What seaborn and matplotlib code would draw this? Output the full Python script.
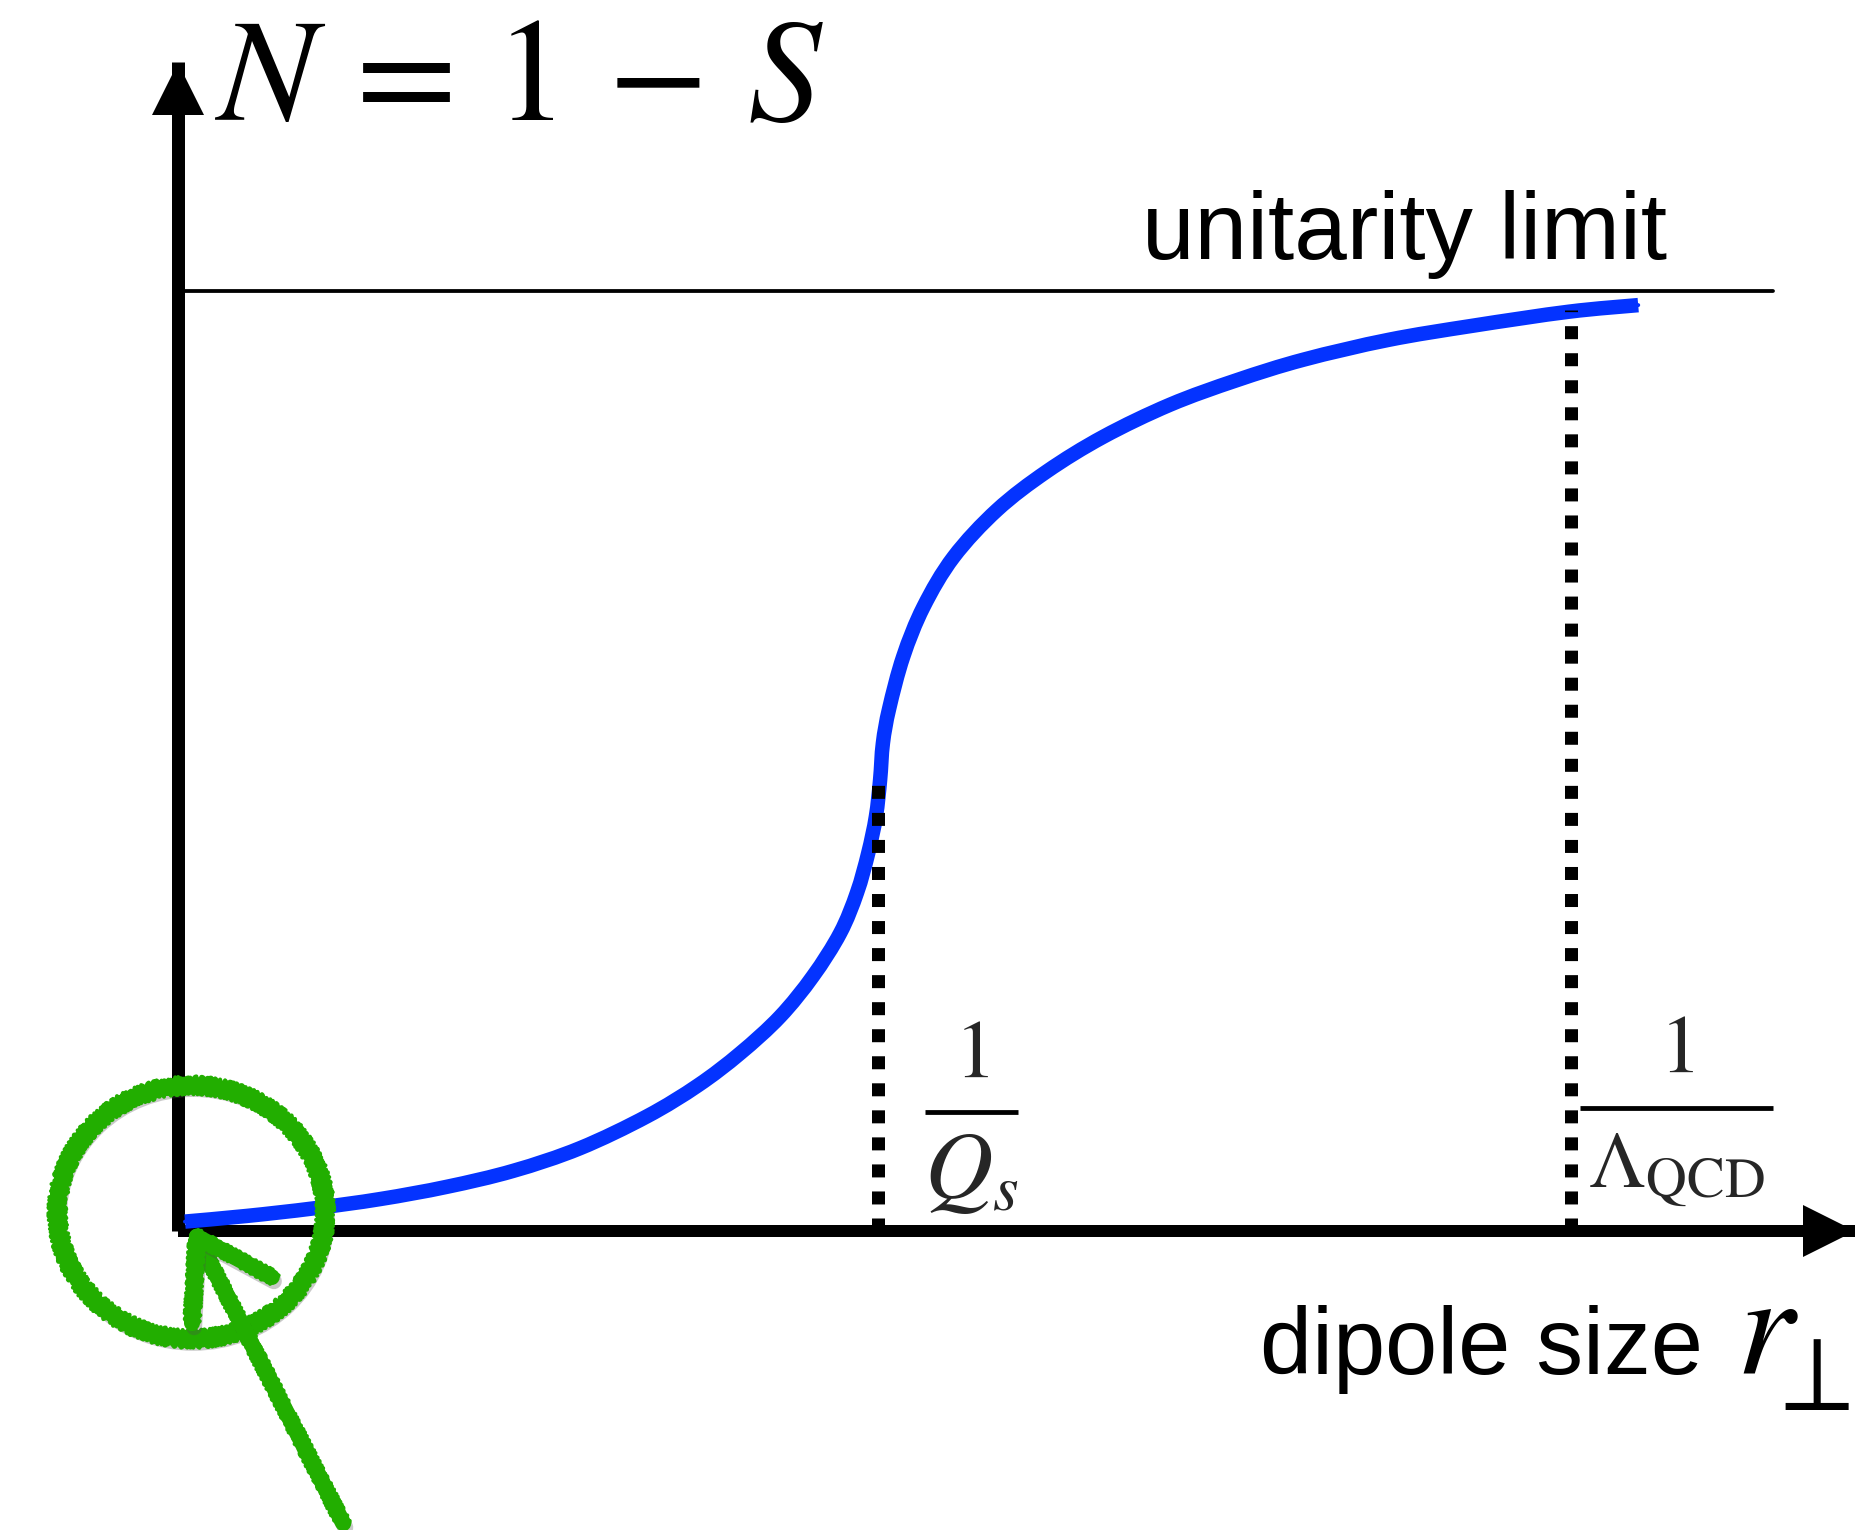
import numpy as np
import pandas as pd
import matplotlib
matplotlib.use("Agg")
import matplotlib.pyplot as plt
import matplotlib.transforms as mtransforms
import matplotlib.patheffects as pe
from matplotlib.patches import Ellipse, PathPatch
from matplotlib.path import Path
import seaborn as sns

# ---- data -------------------------------------------------------------
# dipole amplitude N(r) vs dipole size r (1/Q_s = 1, 1/Lambda_QCD ~ 2)
r_vals = [0.010, 0.098, 0.193, 0.289, 0.384, 0.479, 0.574, 0.670, 0.743,
          0.803, 0.860, 0.907, 0.946, 0.970, 0.986, 0.997, 1.003, 1.007,
          1.016, 1.036, 1.065, 1.108, 1.170, 1.241, 1.322, 1.417, 1.512,
          1.608, 1.729, 1.849, 1.987, 2.086]
n_vals = [0.010, 0.016, 0.024, 0.034, 0.047, 0.064, 0.088, 0.122, 0.155,
          0.189, 0.228, 0.271, 0.317, 0.360, 0.402, 0.441, 0.480, 0.519,
          0.556, 0.611, 0.664, 0.717, 0.767, 0.808, 0.845, 0.879, 0.905,
          0.927, 0.948, 0.963, 0.978, 0.985]

marker_r = [1.0, 1.99]          # 1/Q_s and 1/Lambda_QCD
marker_n = [0.477, 0.980]       # height of the dotted guides

frac_denoms = [r"$Q_s$", r"$\Lambda_{\mathrm{QCD}}$"]
frac_x = [1.133, 2.140]
frac_bar_y = [0.1266, 0.1309]

unitarity = 1.0
unitarity_span = (0.01, 2.278)
x_axis_end = 2.396
y_axis_end = 1.2436

curve = pd.DataFrame({"r": r_vals, "N": n_vals})

# ---- figure -----------------------------------------------------------
sns.set_theme(style="white")
plt.rcParams["mathtext.fontset"] = "stix"
plt.rcParams["font.family"] = ["Liberation Sans", "DejaVu Sans"]

DPI = 100
fig = plt.figure(figsize=(18.69, 15.30), dpi=DPI)
ax = fig.add_axes([0, 0, 1, 1])
ax.set_xlim(-0.2543, 2.4157)
ax.set_ylim(-0.3181, 1.3096)
ax.axis("off")

pt = 72.0 / DPI   # points per pixel
BLUE = "#0433ff"
CURVE_W = 14.5 * pt

# axes with arrow heads
ax.plot([0, 0], [0, y_axis_end], color="black", lw=13 * pt,
        solid_capstyle="butt", zorder=3)
ax.plot([0, x_axis_end], [0, 0], color="black", lw=12 * pt,
        solid_capstyle="butt", zorder=3)
head = 53 * pt
up = mtransforms.offset_copy(ax.transData, fig=fig, x=0, y=-head / 2, units="points")
right = mtransforms.offset_copy(ax.transData, fig=fig, x=-head / 2, y=0, units="points")
ax.plot([0], [y_axis_end], marker="^", ms=head, color="black", mew=0,
        transform=up, zorder=4)
ax.plot([x_axis_end], [0], marker=">", ms=head, color="black", mew=0,
        transform=right, zorder=4)

# unitarity limit
ax.plot(unitarity_span, [unitarity, unitarity], color="black", lw=3.8 * pt)
ax.text(1.377, 1.034, "unitarity limit", fontsize=68, ha="left",
        va="baseline", color="black")

# dotted guides at the characteristic sizes (drawn over the curve)
for rx, ny in zip(marker_r, marker_n):
    ax.plot([rx, rx], [0, ny], color="black", lw=13 * pt,
            linestyle=(0, (1.0, 1.08)), dash_capstyle="butt", zorder=7)

# the amplitude itself: sample points joined by seaborn ...
sns.lineplot(data=curve, x="r", y="N", sort=False, estimator=None,
             color=BLUE, ax=ax, zorder=5)
amp_line = ax.lines[-1]
amp_line.set_linewidth(4 * pt)
amp_line.set_solid_joinstyle("round")
ax.set_xlabel("")
ax.set_ylabel("")

# ... and stroked as a smooth Catmull-Rom curve through the same points
P = curve[["r", "N"]].to_numpy()
Pe = np.vstack([P[0], P, P[-1]])
verts = [tuple(P[0])]
codes = [Path.MOVETO]
for i in range(1, len(Pe) - 2):
    p0, p1, p2, p3 = Pe[i - 1], Pe[i], Pe[i + 1], Pe[i + 2]
    verts += [tuple(p1 + (p2 - p0) / 6), tuple(p2 - (p3 - p1) / 6), tuple(p2)]
    codes += [Path.CURVE4] * 3
ax.add_patch(PathPatch(Path(verts, codes), fill=False, edgecolor=BLUE,
                       lw=CURVE_W, capstyle="butt", joinstyle="round",
                       zorder=5.5))

# fraction labels 1/Q_s and 1/Lambda_QCD
bar_half_px = [46.5, 96.5]
num_up_px = [35, 36]
den_down_px = [86, 79]
den_size = [68, 58]
for den, fx, by, hw, nu, dd, ds in zip(frac_denoms, frac_x, frac_bar_y,
                                       bar_half_px, num_up_px, den_down_px,
                                       den_size):
    ax.plot([fx - hw / 700, fx + hw / 700], [by, by], color="black",
            lw=4.8 * pt, solid_capstyle="butt")
    ax.annotate(r"$1$", xy=(fx, by), xytext=(0, nu * pt),
                textcoords="offset points", fontsize=60, ha="center",
                va="baseline")
    ax.annotate(den, xy=(fx, by), xytext=(0, -dd * pt),
                textcoords="offset points", fontsize=ds, ha="center",
                va="baseline")

# axis titles
ax.text(0.053, 1.182, r"$N\,=\,1\,-\,S$", fontsize=106, ha="left",
        va="baseline", color="black")
ax.text(1.546, -0.152, "dipole size", fontsize=67.5, ha="left",
        va="baseline", color="black")
ax.text(2.225, -0.152, r"$r$", fontsize=106, ha="left",
        va="baseline", color="black")
ax.text(2.266, -0.1904, r"$\perp$", fontsize=77, ha="left",
        va="baseline", color="black")

# hand-drawn green highlight around the origin
green = "#22ae00"
shadow = [pe.SimpleLineShadow(offset=(1.5, -3), shadow_color="0.3", alpha=0.3),
          pe.Normal()]
ell_c, ell_w, ell_h = (0.019, 0.020), 0.383, 0.270
main = Ellipse(ell_c, ell_w, ell_h, fill=False, edgecolor=green,
               lw=15 * pt, zorder=6)
main.set_path_effects(shadow)
ax.add_patch(main)
for d in (-14, -7, 7, 14):
    edge = Ellipse(ell_c, ell_w + d / 700, ell_h + d / 940, fill=False,
                   edgecolor=green, lw=4 * pt, zorder=6)
    edge.set_joinstyle("round")
    edge.set_sketch_params(2.0, 5, 3)
    ax.add_patch(edge)

arrow_x = [0.236, 0.027]
arrow_y = [-0.311, -0.006]
barb_x = [0.020, 0.027, 0.134]
barb_y = [-0.098, -0.006, -0.049]
for xs, ys in [(arrow_x, arrow_y), (barb_x, barb_y)]:
    ax.plot(xs, ys, color=green, lw=16 * pt, solid_capstyle="round",
            solid_joinstyle="round", zorder=6, path_effects=shadow)
    for dx, dy in [(6, 0), (-6, 0), (0, 6), (0, -6)]:
        tr = mtransforms.offset_copy(ax.transData, fig=fig, x=dx * pt,
                                     y=dy * pt, units="points")
        (ln,) = ax.plot(xs, ys, color=green, lw=4 * pt, transform=tr,
                        solid_capstyle="round", solid_joinstyle="round",
                        zorder=6)
        ln.set_sketch_params(2.0, 5, 3)

fig.savefig("out.png", dpi=DPI, facecolor="white")
